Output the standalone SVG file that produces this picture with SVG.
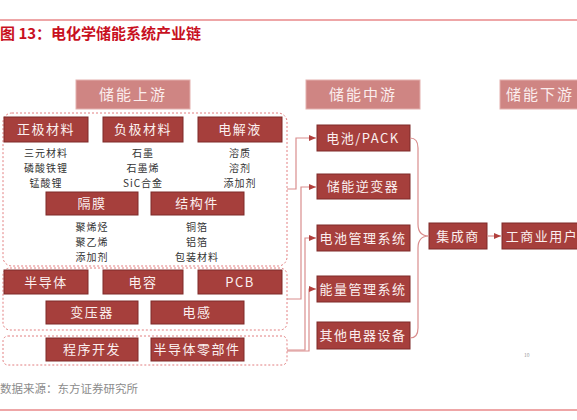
<svg xmlns="http://www.w3.org/2000/svg" width="577" height="420" viewBox="0 0 577 420">
<style>
.cjk{font-family:"Noto Sans CJK SC","Liberation Sans",sans-serif}
.hdr rect{fill:#CF8583;stroke:#E3B0AE;stroke-width:1}
.hdr text{fill:#FBEDED;font-size:15px;letter-spacing:2px;text-anchor:middle}
.bx rect{fill:#A63F3C;stroke:#7E2B29;stroke-width:1}
.bx text{fill:#FBEFEF;font-size:13px;letter-spacing:1.5px;text-anchor:middle}
.lst{fill:#333;font-size:10px;text-anchor:middle;letter-spacing:1px}
.grp{fill:none;stroke:#E27F80;stroke-width:1;stroke-dasharray:2 2}
.con{fill:none;stroke:#D98E8E;stroke-width:1.2}
</style>
<defs>
<marker id="ar" markerWidth="8" markerHeight="8" refX="7" refY="4" orient="auto" markerUnits="userSpaceOnUse">
<path d="M0,1 L7,4 L0,7 Z" fill="#B2403D"/>
</marker>
</defs>
<rect width="577" height="420" fill="#fff"/>
<line x1="0" y1="20" x2="577" y2="20" stroke="#E8898A" stroke-width="1.5"/>
<text class="cjk" x="0" y="39" font-size="15" font-weight="bold" fill="#C8101E">图 13：电化学储能系统产业链</text>

<g id="hdr-up" class="hdr cjk"><rect x="76" y="80" width="114" height="29"/><text x="133" y="100">储能上游</text></g>
<g id="hdr-mid" class="hdr cjk"><rect x="306" y="80" width="114" height="29"/><text x="363" y="100">储能中游</text></g>
<g id="hdr-down" class="hdr cjk"><rect x="500" y="80" width="90" height="29"/><text x="540" y="100">储能下游</text></g>

<g id="group1"><rect class="grp" x="3" y="113" width="284" height="153" rx="9"/></g>
<g id="group2"><rect class="grp" x="3" y="268" width="284" height="62" rx="7"/></g>
<g id="group3"><rect class="grp" x="3" y="336" width="284" height="29" rx="5"/></g>

<g id="n-zj" class="bx cjk"><rect x="4" y="117" width="84" height="25"/><text x="46" y="134">正极材料</text></g>
<g id="n-fj" class="bx cjk"><rect x="103" y="117" width="80" height="25"/><text x="143" y="134">负极材料</text></g>
<g id="n-dj" class="bx cjk"><rect x="198" y="117" width="84" height="25"/><text x="240" y="134">电解液</text></g>
<g id="l-zj" class="lst cjk"><text x="46" y="157">三元材料</text><text x="46" y="172">磷酸铁锂</text><text x="46" y="187">锰酸锂</text></g>
<g id="l-fj" class="lst cjk"><text x="143" y="157">石墨</text><text x="143" y="172">石墨烯</text><text x="143" y="187">SiC合金</text></g>
<g id="l-dj" class="lst cjk"><text x="240" y="157">溶质</text><text x="240" y="172">溶剂</text><text x="240" y="187">添加剂</text></g>
<g id="n-gm" class="bx cjk"><rect x="46" y="192" width="92" height="23"/><text x="92" y="208">隔膜</text></g>
<g id="n-jg" class="bx cjk"><rect x="151" y="192" width="93" height="23"/><text x="197" y="208">结构件</text></g>
<g id="l-gm" class="lst cjk"><text x="92" y="231">聚烯烃</text><text x="92" y="246">聚乙烯</text><text x="92" y="261">添加剂</text></g>
<g id="l-jg" class="lst cjk"><text x="197" y="231">铜箔</text><text x="197" y="246">铝箔</text><text x="197" y="261">包装材料</text></g>

<g id="n-bdt" class="bx cjk"><rect x="4" y="270" width="84" height="24"/><text x="46" y="287">半导体</text></g>
<g id="n-dr" class="bx cjk"><rect x="103" y="270" width="80" height="24"/><text x="143" y="287">电容</text></g>
<g id="n-pcb" class="bx cjk"><rect x="198" y="270" width="84" height="24"/><text x="240" y="287">PCB</text></g>
<g id="n-byq" class="bx cjk"><rect x="46" y="301" width="92" height="23"/><text x="92" y="317">变压器</text></g>
<g id="n-dg" class="bx cjk"><rect x="151" y="301" width="93" height="23"/><text x="197" y="317">电感</text></g>

<g id="n-cx" class="bx cjk"><rect x="46" y="338" width="92" height="23"/><text x="92" y="354">程序开发</text></g>
<g id="n-ljj" class="bx cjk"><rect x="151" y="338" width="93" height="23"/><text x="197" y="354">半导体零部件</text></g>

<g id="n-pack" class="bx cjk"><rect x="317" y="125" width="93" height="26"/><text x="363" y="143">电池/PACK</text></g>
<g id="n-nbq" class="bx cjk"><rect x="317" y="174" width="93" height="25"/><text x="363" y="191">储能逆变器</text></g>
<g id="n-bms" class="bx cjk"><rect x="317" y="225" width="93" height="26"/><text x="363" y="243">电池管理系统</text></g>
<g id="n-ems" class="bx cjk"><rect x="317" y="276" width="93" height="26"/><text x="363" y="294">能量管理系统</text></g>
<g id="n-qt" class="bx cjk"><rect x="317" y="322" width="93" height="27"/><text x="363" y="340">其他电器设备</text></g>
<g id="n-jcs" class="bx cjk"><rect x="429" y="223" width="58" height="26"/><text x="458" y="241">集成商</text></g>
<g id="n-user" class="bx cjk"><rect x="502" y="223" width="90" height="26"/><text x="542" y="241">工商业用户</text></g>

<g id="connectors">
<path class="con" d="M287,189 H296 V138 H316" marker-end="url(#ar)"/>
<path class="con" d="M287,299 H301 V187 H316" marker-end="url(#ar)"/>
<path class="con" d="M287,350 H305 V238 H316" marker-end="url(#ar)"/>
<path class="con" d="M287,351 H309 V289 H316" marker-end="url(#ar)"/>
<path class="con" d="M410,138 Q418,138 418,148 V224 Q418,236 429,236 Q418,236 418,248 V328 Q418,338 410,338"/>
<path class="con" d="M487,236 H501" marker-end="url(#ar)"/>
</g>

<text class="cjk" x="524" y="357" font-size="5" fill="#999">10</text>
<text class="cjk" x="0" y="393" font-size="11.5" fill="#8C8C8C">数据来源：东方证券研究所</text>
<line x1="0" y1="410" x2="577" y2="410" stroke="#E8898A" stroke-width="1.5"/>
</svg>
